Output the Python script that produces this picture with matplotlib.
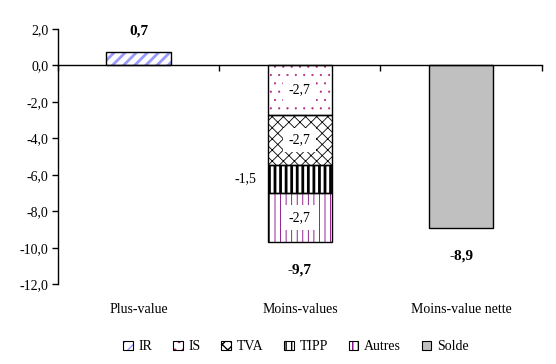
import matplotlib
matplotlib.use("Agg")
import matplotlib.pyplot as plt
from matplotlib.patches import Patch
from matplotlib.legend_handler import HandlerTuple
import numpy as np

categories = ["Plus-value", "Moins-values", "Moins-value nette"]
series = ["IR", "IS", "TVA", "TIPP", "Autres", "Solde"]
# values per series for each category
ir = [0.71, 0.0, 0.0]
is_ = [0.0, -2.72, 0.0]
tva = [0.0, -2.74, 0.0]
tipp = [0.0, -1.54, 0.0]
autres = [0.0, -2.68, 0.0]
solde = [0.0, 0.0, -8.93]
yticks = [2, 0, -2, -4, -6, -8, -10, -12]

plt.rcParams['font.family'] = ['Liberation Serif', 'DejaVu Serif']

fig = plt.figure(figsize=(5.56, 3.64), dpi=100)
ax = fig.add_axes([0.1043, 0.219, 0.870, 0.702])

x = np.arange(len(categories))
w = 0.4
styles = {
    "IR": dict(fc="white", hc="#9999FF", hatch="///", hlw=2.0),
    "IS": dict(fc="white", hc="#B0207A", hatch="..", hlw=0.3),
    "TVA": dict(fc="white", hc="black", hatch="xxx", hlw=0.6),
    "TIPP": dict(fc="white", hc="black", hatch="|||", hlw=2.0),
    "Autres": dict(fc="white", hc="#800080", hatch="|||", hlw=0.6),
    "Solde": dict(fc="#C0C0C0", hc="#C0C0C0", hatch=None, hlw=1.0),
}
data = {"IR": ir, "IS": is_, "TVA": tva, "TIPP": tipp, "Autres": autres, "Solde": solde}


def hatch_patch_kwargs(st):
    return dict(facecolor=st["fc"], edgecolor=st["hc"], hatch=st["hatch"], linewidth=0)


pos_bottom = np.zeros(len(categories))
neg_bottom = np.zeros(len(categories))
handles = []
for name in series:
    vals = np.array(data[name])
    st = styles[name]
    bottoms = np.where(vals >= 0, pos_bottom, neg_bottom)
    mask = vals != 0
    with plt.rc_context({'hatch.linewidth': st["hlw"]}):
        bars = ax.bar(x[mask], vals[mask], w, bottom=bottoms[mask], zorder=2,
                      **hatch_patch_kwargs(st))
        h1 = Patch(**hatch_patch_kwargs(st))
    for b in list(bars) + [h1]:
        if hasattr(b, "set_hatch_linewidth"):
            b.set_hatch_linewidth(st["hlw"])
    ax.bar(x[mask], vals[mask], w, bottom=bottoms[mask], facecolor="none",
           edgecolor="black", linewidth=1.0, zorder=3)
    for i in np.where(mask)[0]:
        if categories[i] == "Moins-values":
            yc = bottoms[i] + vals[i] / 2
            txt = f"{vals[i]:.1f}".replace(".", ",")
            if name == "TIPP":
                ax.text(x[i] - w / 2 - 0.07, yc, txt, ha="right", va="center",
                        fontsize=10, zorder=4)
            else:
                ax.text(x[i], yc, txt, ha="center", va="center", fontsize=10, zorder=4,
                        bbox=dict(facecolor="white", edgecolor="none", pad=4))
    pos_bottom = pos_bottom + np.where(vals >= 0, vals, 0)
    neg_bottom = neg_bottom + np.where(vals < 0, vals, 0)
    h2 = Patch(facecolor="none", edgecolor="black", linewidth=0.8)
    handles.append((h1, h2))

totals = pos_bottom + neg_bottom
for i, t in enumerate(totals):
    txt = f"{t:.1f}".replace(".", ",")
    off = 15 if t >= 0 else -20
    ax.annotate(txt, (x[i], t), xytext=(0, off), textcoords="offset points",
                ha="center", va="center", fontsize=11, fontweight="bold")

ax.set_xlim(-0.5, 2.5)
ax.set_ylim(-12, 2)
ax.set_yticks(yticks)
ax.set_yticklabels([f"{v:.1f}".replace(".", ",") for v in yticks], fontsize=10)
ax.spines['top'].set_visible(False)
ax.spines['right'].set_visible(False)
ax.spines['bottom'].set_position(('data', 0))
ax.spines['bottom'].set_linewidth(1.0)
ax.spines['left'].set_linewidth(1.0)
ax.set_xticks([-0.5, 0.5, 1.5, 2.5])
ax.set_xticklabels([])
ax.tick_params(axis='x', direction='out', length=4, width=1.0)
ax.tick_params(axis='y', direction='out', length=4, width=1.0, pad=3)

for i, c in enumerate(categories):
    ax.annotate(c, (x[i], -12), xytext=(0, -18), textcoords="offset points",
                ha="center", va="center", fontsize=10, annotation_clip=False)

fig.legend(handles, series, handler_map={tuple: HandlerTuple(ndivide=1, pad=0)},
           loc="center", bbox_to_anchor=(0.532, 0.047), ncol=6, frameon=False,
           fontsize=10, handlelength=0.7, handleheight=0.7, handletextpad=0.4,
           columnspacing=1.5)

fig.savefig("out.png", dpi=100)
